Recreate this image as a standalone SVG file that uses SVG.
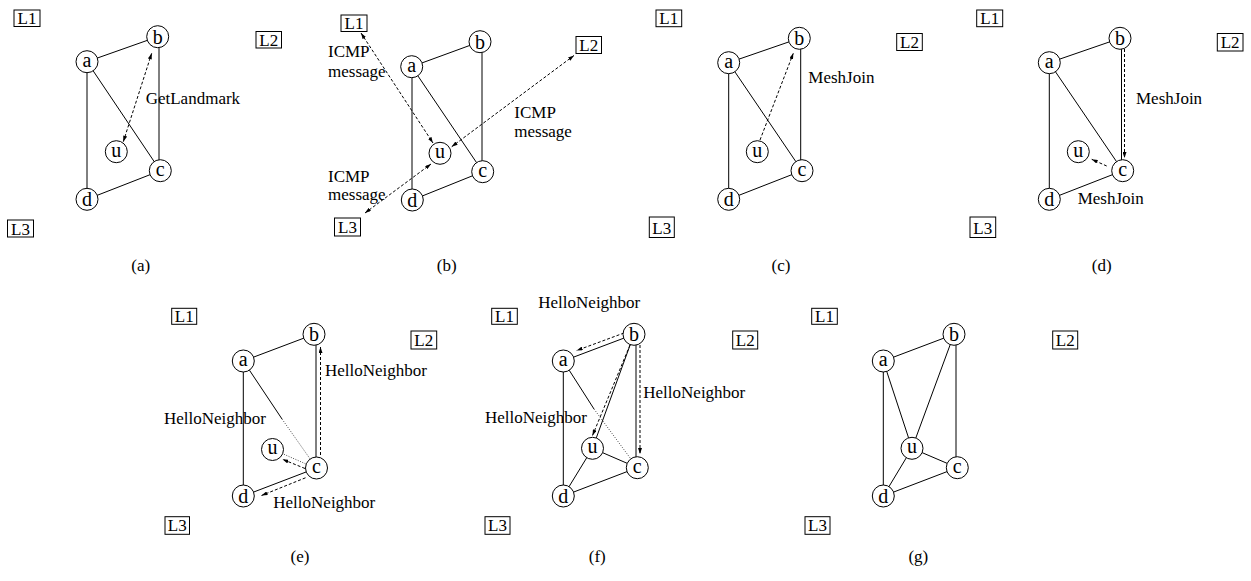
<svg xmlns="http://www.w3.org/2000/svg" width="1251" height="581" viewBox="0 0 1251 581">
  <style>
    text { font-family: "Liberation Serif", "Times New Roman", serif; font-size: 17px; fill: #000; }
    .nl { text-anchor: middle; }
    .node text { font-size: 20px; }
    .cap { text-anchor: middle; }
    .node circle { fill: #fff; stroke: #000; stroke-width: 1; }
    .lm rect { fill: #fff; stroke: #000; stroke-width: 1; }
    .e { stroke: #000; stroke-width: 1; fill: none; }
    .msg { stroke: #000; stroke-width: 1; fill: none; stroke-dasharray: 3 2; }
    .dot { stroke: #000; stroke-width: 0.7; fill: none; stroke-dasharray: 1 1.5; }
  </style>
  <defs>
    <marker id="ah" viewBox="0 0 6 4" refX="6" refY="2" markerWidth="6" markerHeight="4" markerUnits="userSpaceOnUse" orient="auto-start-reverse">
      <path d="M0,0 L6,2 L0,4 z" fill="#000"/>
    </marker>
  </defs>

  <!-- ===== (a) ===== -->
  <g id="connectors-a">
    <line class="e" x1="87" y1="61.7" x2="157.7" y2="36.7"/>
    <line class="e" x1="87" y1="61.7" x2="87" y2="199.3"/>
    <line class="e" x1="87" y1="61.7" x2="160.3" y2="170.7"/>
    <line class="e" x1="159" y1="36.7" x2="159" y2="170.7"/>
    <line class="e" x1="87" y1="199.3" x2="160.3" y2="170.7"/>
    <line class="msg" x1="123.3" y1="141.7" x2="151.7" y2="53.3" marker-start="url(#ah)" marker-end="url(#ah)"/>
  </g>
  <g id="a-L1" class="lm"><rect x="14" y="10" width="26" height="16.5"/><text class="nl" x="27" y="24">L1</text></g>
  <g id="a-L2" class="lm"><rect x="256" y="31.5" width="25.5" height="16.5"/><text class="nl" x="268.7" y="45.5">L2</text></g>
  <g id="a-L3" class="lm"><rect x="7.5" y="220" width="26" height="17"/><text class="nl" x="20.5" y="234.5">L3</text></g>
  <g id="a-a" class="node"><circle cx="87" cy="61.7" r="11"/><text class="nl" x="87" y="66.5">a</text></g>
  <g id="a-b" class="node"><circle cx="157.7" cy="36.7" r="11"/><text class="nl" x="157.7" y="43.7">b</text></g>
  <g id="a-u" class="node"><circle cx="116.3" cy="151.7" r="11"/><text class="nl" x="116.3" y="156.5">u</text></g>
  <g id="a-c" class="node"><circle cx="160.3" cy="170.7" r="11"/><text class="nl" x="160.3" y="175.5">c</text></g>
  <g id="a-d" class="node"><circle cx="87" cy="199.3" r="11"/><text class="nl" x="87" y="206.3">d</text></g>
  <text x="145.7" y="104.3">GetLandmark</text>
  <text class="cap" x="140.7" y="271">(a)</text>

  <!-- ===== (b) ===== -->
  <g id="connectors-b">
    <line class="e" x1="411.7" y1="66.7" x2="480" y2="41.7"/>
    <line class="e" x1="412" y1="66.7" x2="412" y2="200"/>
    <line class="e" x1="411.7" y1="66.7" x2="482.7" y2="171.7"/>
    <line class="e" x1="482" y1="41.7" x2="482" y2="171.7"/>
    <line class="e" x1="412.3" y1="200" x2="482.7" y2="171.7"/>
    <line class="msg" x1="361" y1="33" x2="433" y2="143" marker-start="url(#ah)" marker-end="url(#ah)"/>
    <line class="msg" x1="574" y1="55.5" x2="451.7" y2="146.7" marker-start="url(#ah)" marker-end="url(#ah)"/>
    <line class="msg" x1="365" y1="213" x2="431" y2="164" marker-start="url(#ah)" marker-end="url(#ah)"/>
  </g>
  <g id="b-L1" class="lm"><rect x="341" y="15" width="26" height="16.5"/><text class="nl" x="354" y="29">L1</text></g>
  <g id="b-L2" class="lm"><rect x="576" y="36.5" width="25.5" height="17"/><text class="nl" x="588.7" y="51">L2</text></g>
  <g id="b-L3" class="lm"><rect x="334.5" y="218" width="26" height="18"/><text class="nl" x="347.5" y="233">L3</text></g>
  <g id="b-a" class="node"><circle cx="411.7" cy="66.7" r="11"/><text class="nl" x="411.7" y="71.5">a</text></g>
  <g id="b-b" class="node"><circle cx="480" cy="41.7" r="11"/><text class="nl" x="480" y="48.7">b</text></g>
  <g id="b-u" class="node"><circle cx="440" cy="153.3" r="11"/><text class="nl" x="440" y="158.1">u</text></g>
  <g id="b-c" class="node"><circle cx="482.7" cy="171.7" r="11"/><text class="nl" x="482.7" y="176.5">c</text></g>
  <g id="b-d" class="node"><circle cx="412.3" cy="200" r="11"/><text class="nl" x="412.3" y="207">d</text></g>
  <text x="328" y="57.3">ICMP</text>
  <text x="328" y="77.3">message</text>
  <text x="514.3" y="118.3">ICMP</text>
  <text x="514.3" y="137.3">message</text>
  <text x="328" y="181.7">ICMP</text>
  <text x="328" y="200">message</text>
  <text class="cap" x="446.7" y="271">(b)</text>

  <!-- ===== (c) ===== -->
  <g id="connectors-c">
    <line class="e" x1="728.7" y1="62.7" x2="799.3" y2="38.3"/>
    <line class="e" x1="728.7" y1="62.7" x2="728.7" y2="199.3"/>
    <line class="e" x1="728.7" y1="62.7" x2="802" y2="170.7"/>
    <line class="e" x1="800.7" y1="38.3" x2="800.7" y2="170.7"/>
    <line class="e" x1="728.7" y1="199.3" x2="802" y2="170.7"/>
    <line class="msg" x1="760" y1="140" x2="793.3" y2="53.3" marker-end="url(#ah)"/>
  </g>
  <g id="c-L1" class="lm"><rect x="656" y="10" width="25.7" height="16.7"/><text class="nl" x="668.8" y="24.2">L1</text></g>
  <g id="c-L2" class="lm"><rect x="896.7" y="33.5" width="25.6" height="17"/><text class="nl" x="909.5" y="48">L2</text></g>
  <g id="c-L3" class="lm"><rect x="649.3" y="217" width="25" height="20.5"/><text class="nl" x="661.8" y="233.5">L3</text></g>
  <g id="c-a" class="node"><circle cx="728.7" cy="62.7" r="11"/><text class="nl" x="728.7" y="67.5">a</text></g>
  <g id="c-b" class="node"><circle cx="799.3" cy="38.3" r="11"/><text class="nl" x="799.3" y="45.3">b</text></g>
  <g id="c-u" class="node"><circle cx="757.3" cy="151.7" r="11"/><text class="nl" x="757.3" y="156.5">u</text></g>
  <g id="c-c" class="node"><circle cx="802" cy="170.7" r="11"/><text class="nl" x="802" y="175.5">c</text></g>
  <g id="c-d" class="node"><circle cx="728.7" cy="199.3" r="11"/><text class="nl" x="728.7" y="206.3">d</text></g>
  <text x="808.3" y="83.3">MeshJoin</text>
  <text class="cap" x="781" y="271">(c)</text>

  <!-- ===== (d) ===== -->
  <g id="connectors-d">
    <line class="e" x1="1049.3" y1="62.7" x2="1120" y2="38.3"/>
    <line class="e" x1="1049.3" y1="62.7" x2="1049.3" y2="199.3"/>
    <line class="e" x1="1049.3" y1="62.7" x2="1122.7" y2="170.7"/>
    <line class="e" x1="1121.5" y1="38.3" x2="1121.5" y2="170.7"/>
    <line class="e" x1="1049.3" y1="199.3" x2="1122.7" y2="170.7"/>
    <line class="msg" x1="1124.5" y1="49" x2="1124.5" y2="158" marker-end="url(#ah)"/>
    <line class="msg" x1="1106.7" y1="166" x2="1091.7" y2="159.3" marker-end="url(#ah)"/>
  </g>
  <g id="d-L1" class="lm"><rect x="976.7" y="10" width="26" height="16.7"/><text class="nl" x="989.7" y="24.2">L1</text></g>
  <g id="d-L2" class="lm"><rect x="1217.3" y="33.5" width="25.7" height="17.5"/><text class="nl" x="1230.1" y="48">L2</text></g>
  <g id="d-L3" class="lm"><rect x="970" y="217" width="25.7" height="20.5"/><text class="nl" x="982.8" y="233.5">L3</text></g>
  <g id="d-a" class="node"><circle cx="1049.3" cy="62.7" r="11"/><text class="nl" x="1049.3" y="67.5">a</text></g>
  <g id="d-b" class="node"><circle cx="1120" cy="38.3" r="11"/><text class="nl" x="1120" y="45.3">b</text></g>
  <g id="d-u" class="node"><circle cx="1078.3" cy="151.7" r="11"/><text class="nl" x="1078.3" y="156.5">u</text></g>
  <g id="d-c" class="node"><circle cx="1122.7" cy="170.7" r="11"/><text class="nl" x="1122.7" y="175.5">c</text></g>
  <g id="d-d" class="node"><circle cx="1049.3" cy="199.3" r="11"/><text class="nl" x="1049.3" y="206.3">d</text></g>
  <text x="1136" y="104">MeshJoin</text>
  <text x="1077.7" y="204.3">MeshJoin</text>
  <text class="cap" x="1101.7" y="271">(d)</text>

  <!-- ===== (e) ===== -->
  <g id="connectors-e">
    <line class="e" x1="243.3" y1="361" x2="314" y2="334.3"/>
    <line class="e" x1="243.3" y1="361" x2="243.3" y2="496"/>
    <line class="e" x1="243.3" y1="361" x2="282" y2="419"/>
    <line class="dot" x1="282" y1="419" x2="316.5" y2="468"/>
    <line class="e" x1="316" y1="334.3" x2="316" y2="468"/>
    <line class="e" x1="243.3" y1="496" x2="316.5" y2="468"/>
    <line class="dot" x1="281.7" y1="453.3" x2="308.3" y2="465"/>
    <line class="msg" x1="320.5" y1="455" x2="320.5" y2="347" marker-end="url(#ah)"/>
    <line class="msg" x1="305" y1="468.5" x2="282.5" y2="459.3" marker-end="url(#ah)"/>
    <line class="msg" x1="305.5" y1="477.8" x2="261.5" y2="495.5" marker-end="url(#ah)"/>
  </g>
  <g id="e-L1" class="lm"><rect x="171.7" y="308.3" width="25" height="16"/><text class="nl" x="184.2" y="322.3">L1</text></g>
  <g id="e-L2" class="lm"><rect x="411" y="331" width="25.7" height="18"/><text class="nl" x="423.8" y="346">L2</text></g>
  <g id="e-L3" class="lm"><rect x="165" y="516.7" width="24.5" height="17.6"/><text class="nl" x="177.2" y="531.3">L3</text></g>
  <g id="e-a" class="node"><circle cx="243.3" cy="361" r="11"/><text class="nl" x="243.3" y="365.8">a</text></g>
  <g id="e-b" class="node"><circle cx="314" cy="334.3" r="11"/><text class="nl" x="314" y="341.3">b</text></g>
  <g id="e-u" class="node"><circle cx="272.5" cy="449.5" r="11"/><text class="nl" x="272.5" y="454.3">u</text></g>
  <g id="e-c" class="node"><circle cx="316.5" cy="468" r="11"/><text class="nl" x="316.5" y="472.8">c</text></g>
  <g id="e-d" class="node"><circle cx="243.3" cy="496" r="11"/><text class="nl" x="243.3" y="503">d</text></g>
  <text x="325" y="375.7">HelloNeighbor</text>
  <text x="164" y="424.3">HelloNeighbor</text>
  <text x="273.3" y="507.7">HelloNeighbor</text>
  <text class="cap" x="300" y="562">(e)</text>

  <!-- ===== (f) ===== -->
  <g id="connectors-f">
    <line class="e" x1="563.3" y1="361" x2="634" y2="334.3"/>
    <line class="e" x1="563.3" y1="361" x2="563.3" y2="496"/>
    <line class="e" x1="563.3" y1="361" x2="594" y2="409"/>
    <line class="dot" x1="594" y1="409" x2="637.3" y2="467.7"/>
    <line class="e" x1="634" y1="334.3" x2="592.5" y2="448.3"/>
    <line class="e" x1="636" y1="334.3" x2="636" y2="467.7"/>
    <line class="e" x1="592.5" y1="448.3" x2="637.3" y2="467.7"/>
    <line class="e" x1="592.5" y1="448.3" x2="563.3" y2="496"/>
    <line class="e" x1="563.3" y1="496" x2="637.3" y2="467.7"/>
    <line class="msg" x1="624" y1="333" x2="576.7" y2="350.5" marker-end="url(#ah)"/>
    <line class="msg" x1="630" y1="345" x2="592.5" y2="435.5" marker-end="url(#ah)"/>
    <line class="msg" x1="640" y1="345" x2="640" y2="454" marker-end="url(#ah)"/>
  </g>
  <g id="f-L1" class="lm"><rect x="491.7" y="308.3" width="25.6" height="16"/><text class="nl" x="504.5" y="322.3">L1</text></g>
  <g id="f-L2" class="lm"><rect x="732.7" y="331" width="25" height="18"/><text class="nl" x="745.2" y="346">L2</text></g>
  <g id="f-L3" class="lm"><rect x="485" y="516.7" width="25" height="17.6"/><text class="nl" x="497.5" y="531.3">L3</text></g>
  <g id="f-a" class="node"><circle cx="563.3" cy="361" r="11"/><text class="nl" x="563.3" y="365.8">a</text></g>
  <g id="f-b" class="node"><circle cx="634" cy="334.3" r="11"/><text class="nl" x="634" y="341.3">b</text></g>
  <g id="f-u" class="node"><circle cx="592.5" cy="448.3" r="11"/><text class="nl" x="592.5" y="453.1">u</text></g>
  <g id="f-c" class="node"><circle cx="637.3" cy="467.7" r="11"/><text class="nl" x="637.3" y="472.5">c</text></g>
  <g id="f-d" class="node"><circle cx="563.3" cy="496" r="11"/><text class="nl" x="563.3" y="503">d</text></g>
  <text x="538.3" y="307.7">HelloNeighbor</text>
  <text x="643.3" y="398.3">HelloNeighbor</text>
  <text x="485" y="423.3">HelloNeighbor</text>
  <text class="cap" x="597.3" y="562">(f)</text>

  <!-- ===== (g) ===== -->
  <g id="connectors-g">
    <line class="e" x1="883.3" y1="361" x2="954" y2="334.3"/>
    <line class="e" x1="883.3" y1="361" x2="883.3" y2="496"/>
    <line class="e" x1="883.3" y1="361" x2="912" y2="448.3"/>
    <line class="e" x1="954" y1="334.3" x2="912" y2="448.3"/>
    <line class="e" x1="956" y1="334.3" x2="956" y2="467.7"/>
    <line class="e" x1="912" y1="448.3" x2="957.3" y2="467.7"/>
    <line class="e" x1="912" y1="448.3" x2="883.3" y2="496"/>
    <line class="e" x1="883.3" y1="496" x2="957.3" y2="467.7"/>
  </g>
  <g id="g-L1" class="lm"><rect x="811.7" y="308.3" width="25.6" height="16"/><text class="nl" x="824.5" y="322.3">L1</text></g>
  <g id="g-L2" class="lm"><rect x="1052.7" y="331" width="25" height="18"/><text class="nl" x="1065.2" y="346">L2</text></g>
  <g id="g-L3" class="lm"><rect x="805" y="516.7" width="25" height="17.6"/><text class="nl" x="817.5" y="531.3">L3</text></g>
  <g id="g-a" class="node"><circle cx="883.3" cy="361" r="11"/><text class="nl" x="883.3" y="365.8">a</text></g>
  <g id="g-b" class="node"><circle cx="954" cy="334.3" r="11"/><text class="nl" x="954" y="341.3">b</text></g>
  <g id="g-u" class="node"><circle cx="912" cy="448.3" r="11"/><text class="nl" x="912" y="453.1">u</text></g>
  <g id="g-c" class="node"><circle cx="957.3" cy="467.7" r="11"/><text class="nl" x="957.3" y="472.5">c</text></g>
  <g id="g-d" class="node"><circle cx="883.3" cy="496" r="11"/><text class="nl" x="883.3" y="503">d</text></g>
  <text class="cap" x="918.3" y="562">(g)</text>
</svg>
